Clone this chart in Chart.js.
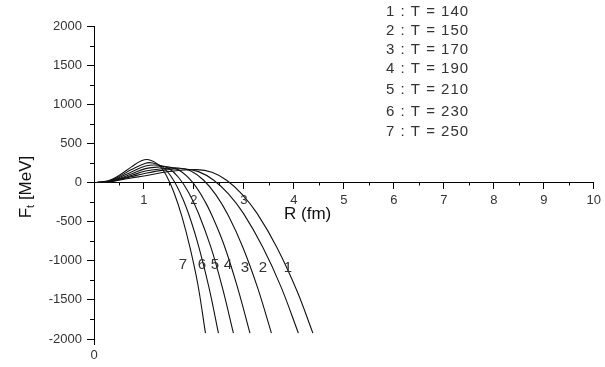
<!DOCTYPE html>
<html>
<head>
<meta charset="utf-8">
<script src="https://cdn.jsdelivr.net/npm/chart.js@4/dist/chart.umd.min.js"></script>
<style>
  html, body { margin: 0; padding: 0; background: #fff; }
  #wrap { width: 605px; height: 367px; position: relative; }
</style>
</head>
<body>
<div id="wrap"><canvas id="ftChart"></canvas></div>
<script>
// curve data: R in fm, F_t in MeV (curves 1..7)
const r1 = [0.05, 0.3, 0.5, 0.75, 1.03, 1.5, 2.06, 2.36, 2.66, 2.96, 3.26, 3.66, 4.06, 4.38];
const f1 = [0, 6, 30, 58, 87, 140, 165, 130, 26, -148, -392, -830, -1383, -1925];
const r2 = [0.05, 0.3, 0.5, 0.75, 1.03, 1.4, 1.79, 2.09, 2.39, 2.69, 2.99, 3.38, 3.74, 4.09];
const f2 = [0, 8, 36, 75, 118, 158, 175, 139, 32, -146, -395, -830, -1331, -1925];
const r3 = [0.05, 0.3, 0.5, 0.75, 1.03, 1.35, 1.69, 1.94, 2.19, 2.44, 2.69, 2.98, 3.27, 3.55];
const f3 = [0, 10, 42, 90, 147, 175, 185, 147, 32, -158, -425, -830, -1338, -1925];
const r4 = [0.05, 0.3, 0.5, 0.75, 1.03, 1.25, 1.47, 1.72, 1.97, 2.22, 2.42, 2.62, 2.87, 3.12];
const f4 = [0, 12, 50, 110, 177, 196, 200, 151, 4, -241, -508, -830, -1337, -1925];
const r5 = [0.05, 0.3, 0.5, 0.75, 1.03, 1.29, 1.49, 1.69, 1.89, 2.09, 2.34, 2.56, 2.79];
const f5 = [0, 15, 60, 135, 211, 220, 182, 67, -124, -392, -830, -1322, -1925];
const r6 = [0.05, 0.3, 0.5, 0.75, 1.03, 1.17, 1.37, 1.57, 1.77, 1.94, 2.1, 2.3, 2.49];
const f6 = [0, 20, 75, 165, 246, 250, 200, 51, -199, -489, -830, -1341, -1925];
const r7 = [0.05, 0.3, 0.5, 0.75, 0.95, 1.1, 1.3, 1.45, 1.6, 1.76, 1.92, 2.08, 2.23];
const f7 = [0, 25, 90, 200, 278, 290, 223, 86, -127, -436, -830, -1310, -1925];

const legendLines = ['1 : T = 140', '2 : T = 150', '3 : T = 170', '4 : T = 190', '5 : T = 210', '6 : T = 230', '7 : T = 250'];
const curveTags = ['1', '2', '3', '4', '5', '6', '7'];
const tagR = [3.88, 3.38, 3.02, 2.68, 2.42, 2.16, 1.78];
const tagF = [-1090, -1090, -1090, -1050, -1050, -1050, -1050];

const xMinorTicks = [0.5, 1.5, 2.5, 3.5, 4.5, 5.5, 6.5, 7.5, 8.5, 9.5];
const yMinorTicks = [1750, 1250, 750, 250, -250, -750, -1250, -1750];

const rSets = [r1, r2, r3, r4, r5, r6, r7];
const fSets = [f1, f2, f3, f4, f5, f6, f7];

const FONT = '"Liberation Sans", Arial, sans-serif';

const datasets = rSets.map((rs, i) => ({
    label: 'curve ' + (i + 1),
    data: rs.map((r, j) => ({ x: r, y: fSets[i][j] })),
    borderColor: '#111',
    borderWidth: 1.1,
    pointRadius: 0,
    fill: false,
    tension: 0.4
}));

// extra drawing: minor ticks, titles, legend text, curve numbers
const decorPlugin = {
    id: 'decor',
    afterDraw(chart) {
        const { ctx } = chart;
        const xs = chart.scales.x;
        const ys = chart.scales.y;
        const y0 = ys.getPixelForValue(0);
        const x0 = xs.getPixelForValue(0);
        ctx.save();
        ctx.strokeStyle = '#000';
        ctx.lineWidth = 1;
        ctx.beginPath();
        xMinorTicks.forEach(v => {
            const px = Math.round(xs.getPixelForValue(v)) + 0.5;
            ctx.moveTo(px, y0);
            ctx.lineTo(px, y0 + 3);
        });
        yMinorTicks.forEach(v => {
            const py = Math.round(ys.getPixelForValue(v)) + 0.5;
            ctx.moveTo(x0, py);
            ctx.lineTo(x0 - 4, py);
        });
        // axis tail below -2000
        const yb = ys.getPixelForValue(-2000);
        ctx.moveTo(Math.round(x0) + 0.5, yb);
        ctx.lineTo(Math.round(x0) + 0.5, yb + 6);
        ctx.stroke();

        ctx.fillStyle = '#333';
        ctx.textBaseline = 'middle';

        // legend text
        ctx.font = '15px ' + FONT;
        ctx.textAlign = 'left';
        ctx.letterSpacing = '1px';
        const legY = [12, 31, 50, 69, 90, 112, 132];
        legendLines.forEach((t, i) => ctx.fillText(t, 386, legY[i]));
        ctx.letterSpacing = '0px';

        // curve numbers
        ctx.textAlign = 'center';
        curveTags.forEach((t, i) => {
            ctx.fillText(t, xs.getPixelForValue(tagR[i]), ys.getPixelForValue(tagF[i]));
        });

        // "0" below the y axis
        ctx.font = '13px ' + FONT;
        ctx.fillText('0', x0, 355);

        // x title
        ctx.fillStyle = '#111';
        ctx.font = '17px ' + FONT;
        ctx.textAlign = 'left';
        ctx.fillText('R (fm)', 284, 214);

        // y title, rotated, with subscript
        ctx.translate(26, 187);
        ctx.rotate(-Math.PI / 2);
        const wF = ctx.measureText('F').width;
        ctx.font = '11px ' + FONT;
        const wt = ctx.measureText('t').width;
        ctx.font = '17px ' + FONT;
        const wRest = ctx.measureText(' [MeV]').width;
        let sx = -(wF + wt + wRest) / 2;
        ctx.fillText('F', sx, 0);
        sx += wF;
        ctx.font = '11px ' + FONT;
        ctx.fillText('t', sx, 5);
        sx += wt;
        ctx.font = '17px ' + FONT;
        ctx.fillText(' [MeV]', sx, 0);
        ctx.restore();
    }
};

new Chart(document.getElementById('ftChart'), {
    type: 'line',
    data: { datasets: datasets },
    options: {
        responsive: true,
        maintainAspectRatio: false,
        animation: false,
        layout: { padding: { left: 0, top: 26, right: 11, bottom: 28 } },
        plugins: {
            legend: { display: false },
            tooltip: { enabled: false }
        },
        scales: {
            x: {
                type: 'linear',
                position: { y: 0 },
                min: 0,
                max: 10,
                grid: { drawOnChartArea: false, drawTicks: true, tickLength: 6, color: '#000' },
                border: { display: true, color: '#000', width: 1 },
                ticks: {
                    stepSize: 1,
                    padding: 4,
                    color: '#333',
                    font: { family: FONT, size: 13 },
                    maxRotation: 0,
                    callback: v => (v === 0 ? '' : String(v))
                }
            },
            y: {
                type: 'linear',
                position: 'left',
                min: -2000,
                max: 2000,
                afterFit(scale) { scale.width = 94; },
                grid: { drawOnChartArea: false, drawTicks: true, tickLength: 7, color: '#000' },
                border: { display: true, color: '#000', width: 1 },
                ticks: {
                    stepSize: 500,
                    padding: 5,
                    color: '#333',
                    font: { family: FONT, size: 13 },
                    callback: v => String(v)
                }
            }
        }
    },
    plugins: [decorPlugin]
});
</script>
</body>
</html>
